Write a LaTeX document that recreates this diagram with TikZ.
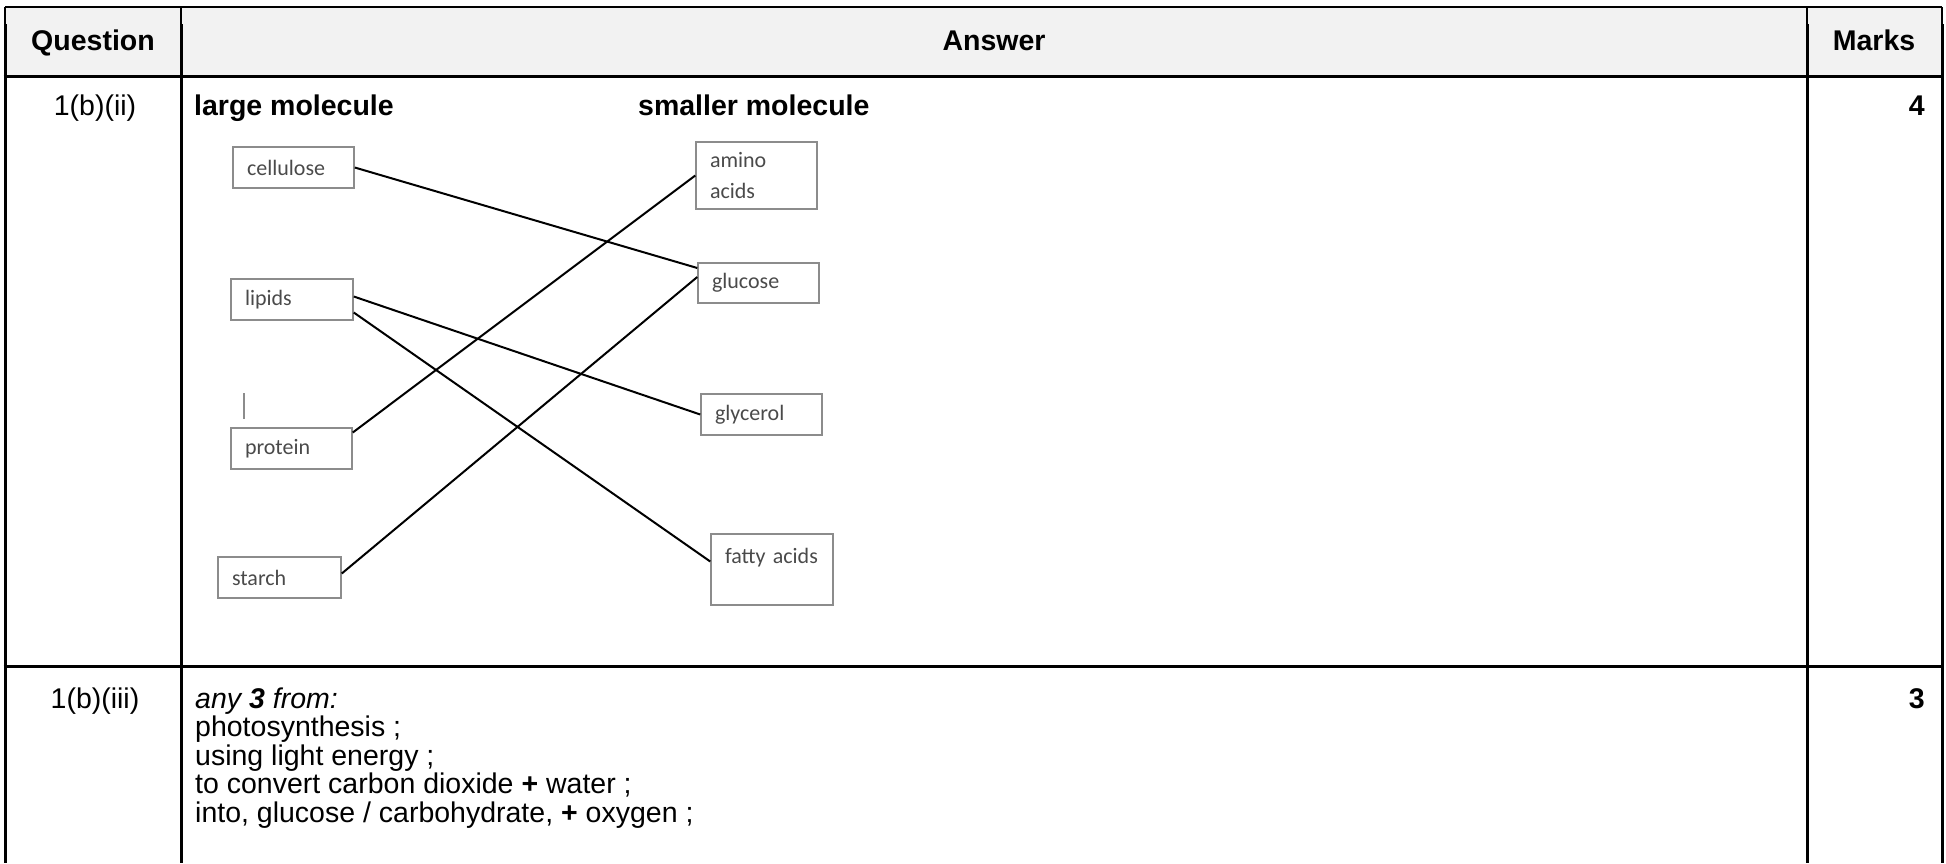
\documentclass[tikz,border=0pt]{standalone}
\usepackage{fontspec}
\setmainfont{Liberation Sans}
\newfontfamily\boxfont{Carlito}
\definecolor{hdrgray}{HTML}{F2F2F2}
\definecolor{boxgray}{HTML}{8C8C8C}
\definecolor{boxtext}{HTML}{4A4A4A}
\tikzset{
  rule/.style={line width=3pt, black},
  thinrule/.style={line width=1.3pt, black},
  txt/.style={font=\fontsize{28.5}{29}\selectfont, inner sep=0pt},
  btxt/.style={txt, font=\fontsize{28.5}{29}\selectfont\bfseries},
  hdr/.style={btxt, anchor=base},
  mbox/.style={draw=boxgray, line width=1.5pt, rectangle, inner xsep=14pt, inner ysep=0pt,
    font=\boxfont\fontsize{22}{31}\selectfont, text=boxtext, align=left, minimum height=41pt},
  link/.style={line width=2pt, black},
  stray/.style={line width=1.5pt, boxgray}
}
\begin{document}
\begin{tikzpicture}[x=1pt,y=-1pt]
\useasboundingbox (0,0) rectangle (1946,863);
% table
\fill[hdrgray] (5,7) rectangle (1942,76);
\draw[thinrule] (5,7) -- (1942,7);
\foreach \xx in {5,181,1807,1942}{
  \draw[thinrule] (\xx,7) -- (\xx,24);
  \draw[rule] (\xx,24) -- (\xx,863);
}
\draw[rule] (3.5,76) -- (1943.5,76);
\draw[rule] (3.5,666) -- (1943.5,666);
% header
\node[hdr] (hq) at (93,50) {Question};
\node[hdr] (ha) at (994,50) {Answer};
\node[hdr] (hm) at (1874,50) {Marks};
% row 1
\node[txt, anchor=base] (q1) at (95,115) {1(b)(ii)};
\node[btxt, anchor=base west] (lm) at (194,115) {large molecule};
\node[btxt, anchor=base west] (sm) at (638,115) {smaller molecule};
\node[btxt, anchor=base east] (m1) at (1925,115) {4};
% boxes
\node[mbox, text width=93pt] (cell) at (293.5,167.5) {cellulose};
\node[mbox, text width=94pt] (lip) at (292,299.5) {lipids};
\node[mbox, text width=93pt] (prot) at (291.5,448.5) {protein};
\node[mbox, text width=95pt] (star) at (279.5,577.5) {starch};
\node[mbox, text width=93pt, minimum height=67pt] (amino) at (756.5,175.5) {amino\\acids};
\node[mbox, text width=93pt, minimum height=40pt] (gluc) at (758.5,283) {glucose};
\node[mbox, text width=93pt] (glyc) at (761.5,414.5) {glycerol};
\node[mbox, text width=94pt, minimum height=71pt] (fatty) at (772,569.5) {fatty acids\\[-4pt]\mbox{}};
% stray mark
\coordinate (s1) at (244,393);
\coordinate (s2) at (244,419);
\draw[stray] (s1) -- (s2);
% connectors
\draw[link] (cell.east) -- ([yshift=15pt]gluc.west);
\draw[link] ([yshift=16pt]prot.east) -- (amino.west);
\draw[link] ([yshift=3pt]lip.east) -- (glyc.west);
\draw[link] ([yshift=-13pt]lip.east) -- ([yshift=8pt]fatty.west);
\draw[link] ([yshift=4pt]star.east) -- ([yshift=6pt]gluc.west);
% row 2
\node[txt, anchor=base] (q2) at (95,708) {1(b)(iii)};
\node[btxt, anchor=base east] (m2) at (1925,708) {3};
\node[txt, anchor=base west] (a1) at (195,708) {\textit{any \textbf{3} from:}};
\node[txt, anchor=base west] (a2) at (195,736.5) {photosynthesis ;};
\node[txt, anchor=base west] (a3) at (195,765) {using light energy ;};
\node[txt, anchor=base west] (a4) at (195,793.5) {to convert carbon dioxide \textbf{+} water ;};
\node[txt, anchor=base west] (a5) at (195,822) {into, glucose / carbohydrate, \textbf{+} oxygen ;};
\end{tikzpicture}
\end{document}
